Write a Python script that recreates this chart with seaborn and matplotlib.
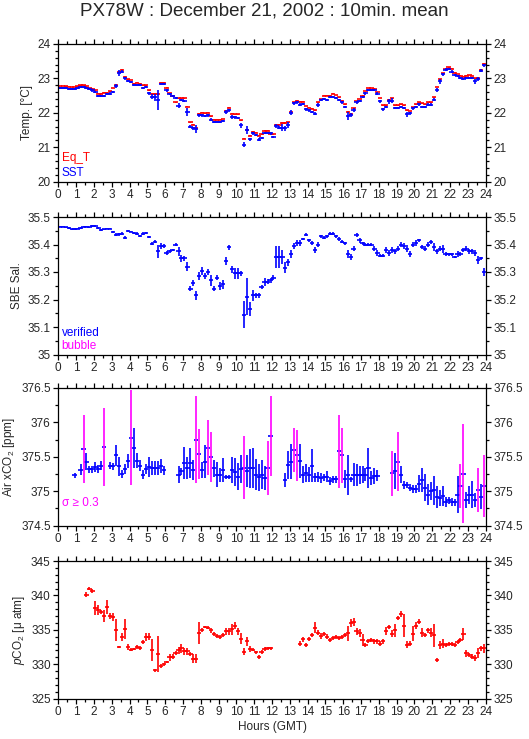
import numpy as np
import matplotlib
matplotlib.use("Agg")
import matplotlib.pyplot as plt
from matplotlib.ticker import MultipleLocator, FormatStrFormatter
import seaborn as sns

nan = np.nan

# 10-minute means, bin centres in hours GMT (6 bins per hour)
hours = np.arange(144) / 6 + 1 / 12

# --- temperature [deg C] ---
eq_t = [
    22.78, 22.78, 22.77, 22.76, 22.75, 22.75,
    22.77, 22.80, 22.80, 22.77, 22.72, 22.70,
    22.65, 22.55, 22.55, 22.58, 22.58, 22.62,
    22.72, 22.80, 23.20, 23.25, 23.05, 22.97,
    22.95, 22.85, 22.87, 22.85, 22.80, 22.80,
    22.65, 22.55, 22.55, 22.55, 22.87, 22.87,
    22.73, 22.57, 22.50, 22.30, 22.42, 22.42,
    22.42, 22.18, 21.72, 21.65, 21.55, 21.97,
    22.00, 21.98, 22.00, 21.90, 21.80, 21.80,
    21.80, 21.82, 22.05, 22.15, 21.97, 21.95,
    21.95, 21.78, 21.25, 21.50, 21.33, 21.45,
    21.42, 21.33, 21.37, 21.48, 21.48, 21.37,
    21.37, 21.65, 21.65, 21.70, 21.70, 21.73,
    22.02, 22.30, 22.35, 22.32, 22.32, 22.20,
    22.15, 22.12, 22.07, 22.30, 22.40, 22.50,
    22.50, 22.50, 22.55, 22.52, 22.45, 22.35,
    22.25, 22.02, 21.97, 22.13, 22.33, 22.40,
    22.50, 22.63, 22.72, 22.72, 22.70, 22.60,
    22.43, 22.22, 22.22, 22.38, 22.42, 22.22,
    22.22, 22.25, 22.22, 22.07, 22.05, 22.17,
    22.25, 22.30, 22.27, 22.25, 22.30, 22.30,
    22.45, 22.75, 22.97, 23.15, 23.27, 23.32,
    23.28, 23.17, 23.13, 23.08, 23.05, 23.08,
    23.10, 23.07, 23.00, 23.00, 23.25, 23.43,
]
eq_t_err = [
    .01, .01, .01, .01, .01, .01,
    .01, .01, .01, .01, .01, .01,
    .01, .01, .01, .01, .01, .01,
    .01, .02, .02, .01, .01, .01,
    .01, .01, .01, .01, .01, .01,
    .01, .01, .02, .02, .01, .01,
    .01, .01, .01, .02, .01, .01,
    .01, .02, .01, .01, .01, .01,
    .01, .01, .01, .01, .01, .01,
    .01, .01, .01, .02, .01, .01,
    .01, .01, .02, .02, .01, .01,
    .01, .01, .01, .01, .01, .01,
    .01, .01, .01, .02, .02, .01,
    .01, .01, .01, .01, .01, .01,
    .01, .01, .01, .01, .01, .01,
    .01, .01, .01, .01, .01, .01,
    .01, .02, .01, .01, .01, .01,
    .01, .01, .01, .01, .01, .01,
    .01, .01, .01, .01, .01, .01,
    .01, .01, .01, .01, .01, .01,
    .01, .01, .01, .01, .01, .01,
    .01, .01, .01, .01, .01, .01,
    .01, .01, .01, .01, .01, .01,
    .01, .01, .01, .01, .01, .01,
]
sst = [
    22.73, 22.73, 22.72, 22.70, 22.70, 22.70,
    22.73, 22.75, 22.75, 22.72, 22.68, 22.65,
    22.60, 22.48, 22.48, 22.50, 22.55, 22.55,
    22.60, 22.78, 23.15, 23.20, 23.00, 22.93,
    22.90, 22.82, 22.80, 22.80, 22.72, 22.75,
    22.57, 22.47, 22.45, 22.38, 22.83, 22.83,
    22.65, 22.55, 22.48, 22.42, 22.20, 22.37,
    22.33, 22.03, 21.60, 21.55, 21.52, 21.93,
    21.92, 21.90, 21.92, 21.80, 21.73, 21.73,
    21.73, 21.77, 22.02, 22.07, 21.87, 21.87,
    21.85, 21.63, 21.07, 21.50, 21.23, 21.40,
    21.35, 21.22, 21.27, 21.40, 21.40, 21.40,
    21.30, 21.62, 21.57, 21.57, 21.55, 21.65,
    22.00, 22.27, 22.30, 22.23, 22.25, 22.10,
    22.07, 22.03, 21.97, 22.22, 22.37, 22.40,
    22.38, 22.45, 22.47, 22.43, 22.37, 22.30,
    22.17, 21.90, 21.93, 22.08, 22.30, 22.35,
    22.47, 22.57, 22.65, 22.67, 22.65, 22.55,
    22.33, 22.10, 22.17, 22.33, 22.35, 22.15,
    22.15, 22.17, 22.13, 21.95, 21.98, 22.13,
    22.17, 22.25, 22.17, 22.17, 22.23, 22.23,
    22.38, 22.67, 22.92, 23.12, 23.25, 23.27,
    23.20, 23.10, 23.07, 23.00, 22.98, 23.02,
    23.02, 23.00, 22.92, 22.98, 23.22, 23.38,
]
sst_err = [
    .03, .03, .03, .03, .03, .03,
    .03, .03, .03, .03, .03, .04,
    .04, .03, .03, .03, .03, .04,
    .04, .05, .08, .05, .04, .03,
    .03, .03, .03, .03, .04, .04,
    .04, .07, .10, .29, .03, .03,
    .04, .03, .03, .03, .07, .03,
    .03, .12, .05, .05, .12, .04,
    .04, .03, .04, .04, .03, .03,
    .03, .03, .05, .05, .05, .04,
    .04, .08, .08, .12, .05, .05,
    .04, .05, .03, .03, .03, .04,
    .03, .06, .04, .10, .07, .08,
    .07, .04, .04, .04, .03, .05,
    .04, .03, .04, .05, .04, .03,
    .03, .03, .03, .03, .04, .04,
    .04, .12, .05, .06, .04, .03,
    .03, .04, .03, .03, .03, .04,
    .05, .04, .03, .07, .08, .03,
    .03, .03, .03, .06, .04, .04,
    .03, .04, .04, .03, .04, .04,
    .05, .06, .07, .04, .04, .03,
    .03, .03, .03, .03, .03, .03,
    .03, .03, .07, .05, .04, .04,
]

# --- SBE salinity ---
sal = [
    35.465, 35.465, 35.462, 35.460, 35.455, 35.457,
    35.458, 35.460, 35.465, 35.465, 35.462, 35.468,
    35.468, 35.460, 35.453, 35.455, 35.458, 35.458,
    35.445, 35.435, 35.437, 35.440, 35.425, 35.448,
    35.447, 35.443, 35.440, 35.430, 35.440, 35.443,
    35.428, 35.403, 35.410, 35.375, 35.395, 35.395,
    35.370, 35.375, 35.380, 35.400, 35.375, 35.350,
    35.350, 35.320, 35.240, 35.260, 35.215, 35.285,
    35.305, 35.285, 35.300, 35.270, 35.240, 35.280,
    35.250, 35.255, 35.340, 35.390, 35.310, 35.295,
    35.295, 35.295, 35.145, 35.210, 35.165, 35.215,
    35.215, 35.215, 35.245, 35.265, 35.265, 35.270,
    35.280, 35.355, 35.355, 35.355, 35.315, 35.335,
    35.365, 35.395, 35.405, 35.405, 35.420, 35.435,
    35.415, 35.405, 35.380, 35.400, 35.430, 35.425,
    35.430, 35.440, 35.440, 35.430, 35.420, 35.410,
    35.405, 35.365, 35.355, 35.385, 35.435, 35.415,
    35.405, 35.400, 35.400, 35.400, 35.385, 35.370,
    35.360, 35.360, 35.380, 35.370, 35.380, 35.375,
    35.385, 35.400, 35.395, 35.385, 35.365, 35.400,
    35.405, 35.415, 35.390, 35.385, 35.400, 35.410,
    35.390, 35.375, 35.385, 35.385, 35.365, 35.365,
    35.365, 35.355, 35.365, 35.365, 35.380, 35.385,
    35.375, 35.375, 35.370, 35.345, 35.350, 35.300,
]
sal_err = [
    .003, .003, .003, .003, .003, .003,
    .003, .003, .003, .003, .003, .003,
    .003, .003, .003, .003, .003, .003,
    .004, .005, .006, .004, .006, .003,
    .003, .003, .004, .004, .006, .004,
    .004, .006, .005, .025, .010, .008,
    .008, .006, .005, .006, .015, .012,
    .010, .018, .010, .012, .015, .015,
    .015, .010, .012, .020, .010, .010,
    .015, .015, .015, .010, .012, .020,
    .020, .010, .050, .068, .025, .020,
    .010, .010, .008, .015, .010, .010,
    .010, .040, .040, .025, .020, .012,
    .015, .012, .012, .010, .005, .005,
    .005, .008, .010, .008, .005, .005,
    .005, .005, .006, .005, .008, .005,
    .005, .015, .012, .010, .008, .008,
    .005, .004, .004, .004, .008, .010,
    .005, .005, .010, .010, .010, .010,
    .010, .008, .010, .012, .010, .010,
    .010, .005, .008, .008, .008, .008,
    .015, .010, .010, .015, .008, .005,
    .005, .005, .010, .008, .008, .010,
    .008, .008, .010, .015, .005, .015,
]

# --- Air xCO2 [ppm] ---
xco2 = [
    nan, nan, nan, nan, nan, 375.23,
    nan, 375.31, 375.61, 375.43, 375.32, 375.32,
    375.35, 375.32, 375.37, 375.64, nan, 375.37,
    375.36, 375.52, 375.36, 375.25, 375.32, 375.44,
    375.78, 375.63, 375.44, 375.37, 375.24, 375.32,
    375.35, 375.34, 375.34, 375.34, 375.37, 375.30,
    nan, nan, nan, nan, 375.24, 375.29,
    375.41, 375.34, 375.41, 375.31, 375.75, 375.54,
    375.31, 375.43, 375.63, 375.50, 375.33, 375.24,
    375.24, 375.31, 375.20, 375.21, 375.31, 375.28,
    375.21, 375.32, 375.34, 375.29, 375.33, 375.33,
    375.24, 375.20, 375.24, 375.19, 375.34, 375.80,
    nan, nan, nan, nan, 375.16, 375.38,
    375.43, 375.60, 375.52, 375.44, 375.24, 375.27,
    375.24, 375.37, 375.20, 375.21, 375.19, 375.20,
    375.21, 375.15, 375.17, 375.17, 375.58, 375.52,
    375.18, 375.24, 375.17, 375.24, 375.23, 375.24,
    375.24, 375.24, 375.34, 375.19, 375.22, 375.22,
    nan, nan, nan, nan, 375.26, 375.29,
    375.43, 375.24, 375.09, 375.09, 375.05, 375.03,
    375.03, 375.11, 375.16, 375.05, 374.95, 375.00,
    375.01, 374.91, 374.90, 374.93, 374.84, 374.87,
    374.84, 374.84, 374.95, 375.08, 375.25, 374.87,
    374.95, 374.95, 374.87, 375.02, 374.92, 375.07,
]
xco2_sd = [
    nan, nan, nan, nan, nan, .04,
    nan, .08, .49, .12, .05, .05,
    .07, .06, .07, .57, nan, .05,
    .05, .15, .14, .06, .07, .10,
    .69, .29, .11, .08, .07, .07,
    .14, .10, .10, .10, .10, .07,
    nan, nan, nan, nan, .12, .05,
    .23, .16, .22, .15, .63, .37,
    .12, .24, .40, .36, .13, .18,
    .10, .17, .03, .03, .19, .20,
    .20, .20, .46, .23, .28, .29,
    .23, .20, .21, .17, .39, .58,
    nan, nan, nan, nan, .10, .20,
    .26, .32, .37, .25, .12, .13,
    .11, .24, .07, .07, .07, .05,
    .08, .06, .05, .05, .53, .40,
    .13, .29, .04, .17, .16, .13,
    .12, .09, .29, .10, .11, .08,
    nan, nan, nan, nan, .33, .26,
    .43, .12, .06, .05, .05, .06,
    .06, .12, .18, .20, .15, .13,
    .21, .16, .11, .15, .07, .05,
    .06, .05, .27, .32, .72, .12,
    .13, .20, .10, .32, .18, .45,
]

# --- pCO2 [uatm] ---
pco2 = [
    nan, nan, nan, nan, nan, nan,
    nan, nan, nan, 340.1, 341.0, 340.6,
    338.2, 337.9, 337.6, 337.0, 338.3, 337.0,
    336.9, 334.9, 332.5, 334.0, 335.1, 332.5,
    332.1, 332.2, 332.5, 332.3, 333.2, 334.0,
    334.0, 332.0, 329.1, 331.5, 329.7, 330.0,
    330.3, 331.0, 331.1, 331.6, 332.0, 332.3,
    331.9, 331.9, 331.5, 330.8, 330.8, 334.5,
    335.0, 335.4, 335.3, 334.9, 334.4, 334.1,
    333.9, 334.3, 334.8, 334.8, 335.1, 335.6,
    334.8, 333.7, 331.8, 333.3, 332.2, 332.1,
    331.7, 331.0, 331.8, 332.2, 332.3, 332.3,
    nan, nan, nan, nan, nan, nan,
    nan, nan, nan, 333.0, 333.6, 332.8,
    333.6, 334.2, 335.3, 334.6, 334.1, 334.4,
    334.0, 333.5, 333.8, 334.0, 333.8, 334.0,
    334.3, 334.5, 336.0, 336.1, 334.8, 334.5,
    333.5, 332.8, 333.4, 333.5, 333.3, 333.3,
    333.0, 333.3, 334.8, 335.4, 334.4, 334.9,
    336.7, 337.3, 335.6, 332.8, 333.0, 334.4,
    335.6, 336.2, 334.6, 334.3, 334.9, 334.6,
    334.2, 330.6, 332.8, 333.0, 332.8, 332.9,
    332.9, 332.8, 333.2, 333.5, 334.4, 331.6,
    331.3, 331.1, 330.9, 331.6, 332.3, 332.3,
]
pco2_err = [
    nan, nan, nan, nan, nan, nan,
    nan, nan, nan, 0.4, 0.2, 0.3,
    1.0, 0.7, 0.3, 0.9, 1.0, 0.4,
    0.6, 1.6, 0.2, 0.6, 1.4, 0.4,
    0.2, 0.2, 0.3, 0.3, 0.3, 0.6,
    0.5, 1.6, 0.2, 2.6, 0.3, 0.2,
    0.2, 0.5, 0.3, 0.3, 0.5, 0.7,
    0.5, 0.5, 0.3, 0.6, 0.7, 1.6,
    0.3, 0.2, 0.2, 0.4, 0.3, 0.3,
    0.3, 0.3, 0.5, 0.5, 0.8, 0.5,
    0.5, 0.8, 0.5, 0.7, 0.4, 0.2,
    0.2, 0.3, 0.3, 0.3, 0.2, 0.2,
    nan, nan, nan, nan, nan, nan,
    nan, nan, nan, 0.3, 0.4, 0.3,
    0.3, 0.3, 0.8, 0.3, 0.4, 0.3,
    0.4, 0.3, 0.3, 0.3, 0.3, 0.3,
    0.3, 1.1, 0.6, 0.6, 0.5, 0.6,
    0.9, 0.3, 0.3, 0.3, 0.3, 0.3,
    0.3, 0.3, 0.6, 0.3, 0.5, 1.0,
    0.3, 0.4, 1.7, 0.5, 0.3, 1.1,
    0.5, 0.4, 0.6, 0.3, 0.3, 0.6,
    1.7, 0.3, 0.6, 0.6, 0.3, 0.3,
    0.3, 0.3, 0.3, 0.3, 0.9, 0.5,
    0.3, 0.3, 0.4, 0.7, 0.4, 0.7,
]

RED, BLUE, MAGENTA = "#ff0000", "#0000ff", "#ff00ff"
HALF_BIN = 0.12   # half width of the horizontal dash, hours
LW = 1.2
FS = 8.5

sns.set_theme(style="ticks")
plt.rcParams["font.family"] = ["Liberation Sans", "DejaVu Sans"]
plt.rcParams["mathtext.fontset"] = "custom"
plt.rcParams["mathtext.rm"] = "Liberation Sans"
plt.rcParams["mathtext.it"] = "Liberation Sans:italic"
plt.rcParams["mathtext.default"] = "regular"

fig = plt.figure(figsize=(5.29, 7.39), dpi=100)
left, width = 58.3 / 529, 427.4 / 529
tops = [44, 217, 388, 561]
axes = [fig.add_axes([left, 1 - (t + 137.5) / 739, width, 137.5 / 739]) for t in tops]


def crosses(ax, y, err, color):
    ax.errorbar(hours, y, yerr=err, xerr=HALF_BIN, fmt="none",
                ecolor=color, elinewidth=LW, capsize=0)


def style(ax, ylim, major, minor, fmt, ylabel):
    ax.set_xlim(0, 24)
    ax.set_ylim(*ylim)
    ax.xaxis.set_major_locator(MultipleLocator(1))
    ax.xaxis.set_minor_locator(MultipleLocator(0.5))
    ax.yaxis.set_major_locator(MultipleLocator(major))
    ax.yaxis.set_minor_locator(MultipleLocator(minor))
    ax.yaxis.set_major_formatter(FormatStrFormatter(fmt))
    ax.tick_params(which="both", direction="out", top=True, right=True,
                   labelright=True, labelsize=FS, color="black", width=0.9,
                   pad=2)
    ax.tick_params(which="major", length=3.5)
    ax.tick_params(which="minor", length=2.5)
    for s in ax.spines.values():
        s.set_color("black")
        s.set_linewidth(0.9)
    ax.set_ylabel(ylabel, fontsize=FS, labelpad=3)
    ax.grid(False)


ax1, ax2, ax3, ax4 = axes

# temperature
crosses(ax1, eq_t, eq_t_err, RED)
crosses(ax1, sst, sst_err, BLUE)
style(ax1, (20, 24), 1, 0.2, "%g", "Temp. [°C]")
ax1.text(0.008, 0.17, "Eq_T", color=RED, fontsize=FS, transform=ax1.transAxes, va="center")
ax1.text(0.008, 0.065, "SST", color=BLUE, fontsize=FS, transform=ax1.transAxes, va="center")

# salinity
crosses(ax2, sal, sal_err, BLUE)
style(ax2, (35, 35.5), 0.1, 0.05, "%g", "SBE Sal.")
ax2.text(0.008, 0.16, "verified", color=BLUE, fontsize=FS, transform=ax2.transAxes, va="center")
ax2.text(0.008, 0.062, "bubble", color=MAGENTA, fontsize=FS, transform=ax2.transAxes, va="center")

# air xCO2: dash always blue, vertical bar magenta when sigma >= 0.3
xco2_a = np.array(xco2)
sd = np.array(xco2_sd)
big = sd >= 0.3
ax3.errorbar(hours, xco2_a, xerr=HALF_BIN, fmt="none", ecolor=BLUE, elinewidth=LW, capsize=0)
ax3.errorbar(hours[~big], xco2_a[~big], yerr=sd[~big], fmt="none", ecolor=BLUE, elinewidth=LW, capsize=0)
ax3.errorbar(hours[big], xco2_a[big], yerr=sd[big], fmt="none", ecolor=MAGENTA, elinewidth=LW, capsize=0)
style(ax3, (374.5, 376.5), 0.5, 0.25, "%g", "Air xCO$_2$ [ppm]")
ax3.text(0.008, 0.16, "σ ≥ 0.3", color=MAGENTA, fontsize=FS, transform=ax3.transAxes, va="center")

# pCO2
crosses(ax4, pco2, pco2_err, RED)
style(ax4, (325, 345), 5, 1, "%g", "$\\it{p}$CO$_2$ [$\\mu$ atm]")
ax4.set_xlabel("Hours (GMT)", fontsize=FS, labelpad=2)

fig.text(0.5, 1 - 11 / 739, "PX78W : December 21, 2002 : 10min. mean",
         ha="center", va="center", fontsize=13.5)

fig.savefig("out.png", dpi=100, facecolor="white")
